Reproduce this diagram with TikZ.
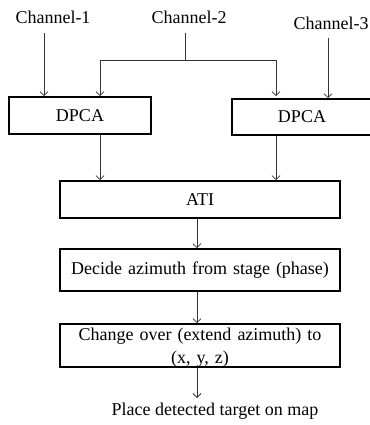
\documentclass[tikz,border=0pt]{standalone}
\usepackage{fontspec}
\setmainfont{Liberation Serif}
\usetikzlibrary{arrows.meta}

\begin{document}
\begin{tikzpicture}[
    x=1pt, y=-1pt,
    every node/.style={font=\fontsize{18}{23}\selectfont, inner sep=0pt},
    block/.style={draw, line width=1.6pt, minimum width=280pt, align=center,
        execute at begin node={\spaceskip=6pt\relax}},
    flow/.style={-{Straight Barb[length=4pt,width=8pt]}, line width=0.8pt, black!80},
]
\useasboundingbox (0,0) rectangle (369,425);
% inputs
\node (ch1) at (53,17) {Channel-1};
\node (ch2) at (189,17) {Channel-2};
\node (ch3) at (331,23) {Channel-3};
% blocks
\node[block, minimum width=142pt, minimum height=37pt] (dpcaL) at (80,115.5) {DPCA};
\node[block, minimum width=140pt, minimum height=36pt] (dpcaR) at (302,117) {DPCA};
\node[block, minimum height=37pt] (ati) at (200,199.5) {ATI};
\node[block, minimum height=42pt] (decide) at (200,270) {Decide azimuth from stage (phase)};
\node[block, minimum height=43pt, text depth=0pt] (change) at (200,345.5) {Change over (extend azimuth) to\\(x, y, z)};
\node (place) at (215,411) {Place detected target on map};
% connectors
\coordinate (c1) at (44,33);
\coordinate (c2) at (185,33);
\coordinate (c3) at (328,38);
\coordinate (split) at (185,60);
\coordinate (aL) at (100,60);
\coordinate (aR) at (276,60);
\coordinate (mid) at (197,0);
\coordinate (end) at (197,398);
\draw[flow] (c1) -- (c1 |- dpcaL.north);
\draw[flow] (c3) -- (c3 |- dpcaR.north);
\draw[line width=0.8pt, black!80] (c2) -- (split) (aL) -- (aR);
\draw[flow] (aL) -- (aL |- dpcaL.north);
\draw[flow] (aR) -- (aR |- dpcaL.north);
\draw[flow] (aL |- dpcaL.south) -- (aL |- ati.north);
\draw[flow] (aR |- dpcaR.south) -- (aR |- ati.north);
\draw[flow] (mid |- ati.south) -- (mid |- decide.north);
\draw[flow] (mid |- decide.south) -- (mid |- change.north);
\draw[flow] (mid |- change.south) -- (end);
\end{tikzpicture}
\end{document}
